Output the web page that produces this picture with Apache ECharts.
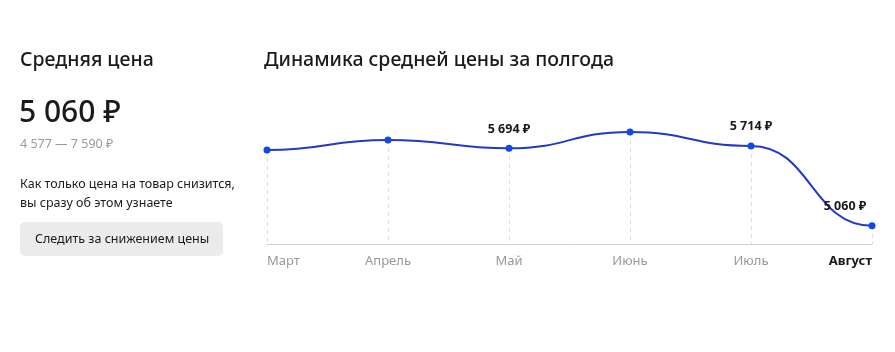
<!DOCTYPE html>
<html>
<head>
<meta charset="utf-8">
<script src="https://cdn.jsdelivr.net/npm/echarts@6/dist/echarts.min.js"></script>
<style>
  html, body { margin: 0; padding: 0; background: #fff; }
  #priceChart { width: 895px; height: 352px; }
</style>
</head>
<body>
<div id="priceChart"></div>
<script>
// данные за полгода
const months = ['Март', 'Апрель', 'Май', 'Июнь', 'Июль', 'Август'];
const prices = [5681, 5763, 5694, 5828, 5714, 5060];
const labeledMonths = ['Май', 'Июль', 'Август'];
const currentPrice = '5 060 ₽';
const priceRange = '4 577 — 7 590 ₽';

const FONT = '"Noto Sans", sans-serif';
const Y_MIN = 4910;

function fmt(v) {
  return String(v).replace(/\B(?=(\d{3})+(?!\d))/g, ' ') + ' ₽';
}

const chart = echarts.init(document.getElementById('priceChart'));

const seriesData = prices.map((v, i) => {
  const item = { value: v };
  if (labeledMonths.includes(months[i])) {
    item.label = { show: true };
    if (i === months.length - 1) {
      item.label.offset = [-27, 0];
    }
  }
  return item;
});

// пунктир от точки вниз до оси
const dropLines = prices.map((v, i) => [
  { coord: [i, v] },
  { coord: [i, Y_MIN] }
]);

// кривая: каждый отрезок — кубическая Безье с горизонтальными касательными
function renderCurve(params, api) {
  const i = params.dataIndex;
  if (i === 0) return null;
  const p0 = api.coord([i - 1, prices[i - 1]]);
  const p1 = api.coord([i, prices[i]]);
  const h = (p1[0] - p0[0]) * 0.5;
  return {
    type: 'bezierCurve',
    shape: {
      x1: p0[0], y1: p0[1],
      x2: p1[0], y2: p1[1],
      cpx1: p0[0] + h, cpy1: p0[1],
      cpx2: p1[0] - h, cpy2: p1[1]
    },
    style: { stroke: '#2438c8', lineWidth: 2, fill: null }
  };
}

chart.setOption({
  animation: false,
  textStyle: { fontFamily: FONT },
  title: [
    {
      text: 'Средняя цена',
      left: 20, top: 50, padding: 0,
      textStyle: { fontSize: 19.5, fontWeight: 500, color: '#1a1a1a', fontFamily: FONT }
    },
    {
      text: 'Динамика средней цены за полгода',
      left: 264, top: 50, padding: 0,
      textStyle: { fontSize: 19.5, fontWeight: 500, color: '#1a1a1a', fontFamily: FONT }
    }
  ],
  graphic: [
    {
      type: 'text', left: 19, top: 98,
      style: { text: currentPrice, fontSize: 30, fontWeight: 500, fill: '#1a1a1a', fontFamily: FONT }
    },
    {
      type: 'text', left: 20, top: 138,
      style: { text: priceRange, fontSize: 12.5, fill: '#9a9a9a', fontFamily: FONT }
    },
    {
      type: 'text', left: 20, top: 175,
      style: {
        text: 'Как только цена на товар снизится,\nвы сразу об этом узнаете',
        fontSize: 12.5, lineHeight: 19, fill: '#1a1a1a', fontFamily: FONT
      }
    },
    {
      type: 'rect', left: 20, top: 222,
      shape: { width: 203, height: 34, r: 5 },
      style: { fill: '#ebebeb' }
    },
    {
      type: 'text', left: 35, top: 233,
      style: { text: 'Следить за снижением цены', fontSize: 12.5, fill: '#1a1a1a', fontFamily: FONT }
    }
  ],
  grid: { left: 267, right: 23, top: 100, bottom: 108 },
  xAxis: {
    type: 'category',
    data: months,
    boundaryGap: false,
    axisLine: { lineStyle: { color: '#d0d0d0', width: 1 } },
    axisTick: { show: false },
    splitLine: { show: false },
    axisLabel: {
      margin: 11,
      fontSize: 13,
      color: '#999999',
      alignMinLabel: 'left',
      alignMaxLabel: 'right',
      formatter: (v, i) => i === months.length - 1 ? '{b|' + v + '}' : v,
      rich: { b: { fontWeight: 'bold', color: '#1a1a1a', fontSize: 13, fontFamily: FONT } }
    }
  },
  yAxis: {
    type: 'value',
    min: Y_MIN,
    max: 6090,
    show: false,
    splitLine: { show: false }
  },
  series: [
    {
      type: 'custom',
      data: prices.map((v, i) => [i, v]),
      encode: { x: 0, y: 1 },
      renderItem: renderCurve,
      silent: true,
      z: 2
    },
    {
      type: 'line',
      data: seriesData,
      symbol: 'circle',
      symbolSize: 7,
      showAllSymbol: true,
      lineStyle: { opacity: 0 },
      itemStyle: { color: '#1447e6' },
      z: 3,
      label: {
        show: false,
        position: 'top',
        distance: 9,
        fontSize: 12.5,
        fontWeight: 'bold',
        color: '#1a1a1a',
        fontFamily: FONT,
        formatter: p => fmt(p.value)
      },
      markLine: {
        silent: true,
        symbol: 'none',
        label: { show: false },
        lineStyle: { color: '#dcdcdc', type: [4, 4], width: 1 },
        z: 1,
        data: dropLines
      }
    }
  ]
});
</script>
</body>
</html>
